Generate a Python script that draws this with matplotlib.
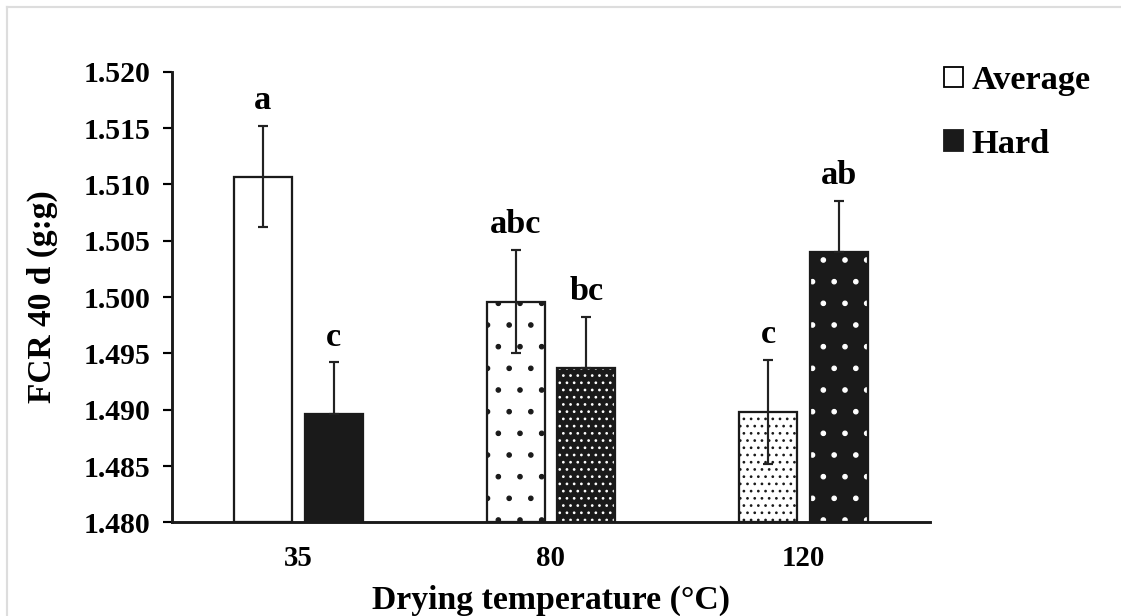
import numpy as np
import matplotlib
matplotlib.use("Agg")
import matplotlib.pyplot as plt
from matplotlib.patches import Patch
from matplotlib.lines import Line2D

# data
temps = ["35", "80", "120"]
avg_fcr = [1.5107, 1.4996, 1.4898]
avg_err = [0.0045, 0.0046, 0.0046]
hard_fcr = [1.4896, 1.4937, 1.5040]
hard_err = [0.0046, 0.0045, 0.0045]
avg_letters = ["a", "abc", "c"]
hard_letters = ["c", "bc", "ab"]

plt.rcParams['font.family'] = ['Liberation Serif', 'DejaVu Serif']
plt.rcParams['font.weight'] = 'bold'
plt.rcParams['hatch.linewidth'] = 0.7

# dpi 130 so the dot hatches come out as sparse as in the original
fig = plt.figure(figsize=(1121 / 130, 616 / 130), dpi=130)
ax = fig.add_axes([0.1534, 0.1518, 0.6762, 0.7318])

x = np.arange(len(temps))
w = 0.23
off = 0.14
base = 1.48

# Average bars: white with black dots (none, sparse, dense)
avg_hatch = [None, '.', '...']
for i in range(len(temps)):
    ax.bar(x[i] - off, avg_fcr[i] - base, w, bottom=base, color='white',
           edgecolor='#1a1a1a', linewidth=1.25, hatch=avg_hatch[i], zorder=2)

# Hard bars: black with white dots (none, dense, sparse)
hard_hatch = [None, '...', '.']
for i in range(len(temps)):
    ax.bar(x[i] + off, hard_fcr[i] - base, w, bottom=base, color='#1a1a1a',
           edgecolor='white', linewidth=0, hatch=hard_hatch[i], zorder=2)
    ax.bar(x[i] + off, hard_fcr[i] - base, w, bottom=base, fill=False,
           edgecolor='#1a1a1a', linewidth=1.25, zorder=3)

# error bars
ax.errorbar(x - off, avg_fcr, yerr=avg_err, fmt='none', ecolor='#222222',
            elinewidth=1.2, capsize=3, capthick=1.2, zorder=4)
ax.errorbar(x + off, hard_fcr, yerr=[np.zeros(3), hard_err], fmt='none',
            ecolor='#222222', elinewidth=1.2, capsize=3, capthick=1.2, zorder=4)

# significance letters
for i in range(len(temps)):
    ax.annotate(avg_letters[i], (x[i] - off, avg_fcr[i] + avg_err[i]),
                xytext=(0, 5.5), textcoords='offset points', ha='center',
                va='bottom', fontsize=19, fontweight='bold')
    ax.annotate(hard_letters[i], (x[i] + off, hard_fcr[i] + hard_err[i]),
                xytext=(0, 5.5), textcoords='offset points', ha='center',
                va='bottom', fontsize=19, fontweight='bold')

ax.set_xlim(-0.5, 2.5)
ax.set_ylim(1.480, 1.520)
ax.set_yticks(np.arange(1.480, 1.5201, 0.005))
ax.yaxis.set_major_formatter(matplotlib.ticker.FormatStrFormatter('%.3f'))
ax.set_xticks(x)
ax.set_xticklabels(temps)
ax.tick_params(axis='x', length=0, pad=12.5, labelsize=16)
ax.tick_params(axis='y', length=5, width=1.2, direction='out', labelsize=16.5, pad=7)

for s in ['top', 'right']:
    ax.spines[s].set_visible(False)
for s in ['left', 'bottom']:
    ax.spines[s].set_linewidth(1.6)
    ax.spines[s].set_color('#1a1a1a')

ax.set_xlabel('Drying temperature (°C)', fontsize=18.7, fontweight='bold', labelpad=7)
ax.set_ylabel('FCR 40 d (g:g)', fontsize=18.5, fontweight='bold', labelpad=14)

handles = [Patch(facecolor='white', edgecolor='black', linewidth=1.0),
           Patch(facecolor='#1a1a1a', edgecolor='#1a1a1a', linewidth=1.0)]
fig.legend(handles, ['Average', 'Hard'], loc='upper left',
           bbox_to_anchor=(0.842, 0.894), frameon=False, fontsize=19,
           handlelength=0.55, handleheight=0.55, handletextpad=0.25,
           labelspacing=0.95, borderpad=0, borderaxespad=0)

# thin grey frame seen at the image's top-left
fig.add_artist(Line2D([0.0063, 0.0063], [0, 0.9886], transform=fig.transFigure,
                      color='#dddddd', linewidth=1.2))
fig.add_artist(Line2D([0.0063, 1], [0.9886, 0.9886], transform=fig.transFigure,
                      color='#dddddd', linewidth=1.2))

fig.savefig('out.png', dpi=130)
